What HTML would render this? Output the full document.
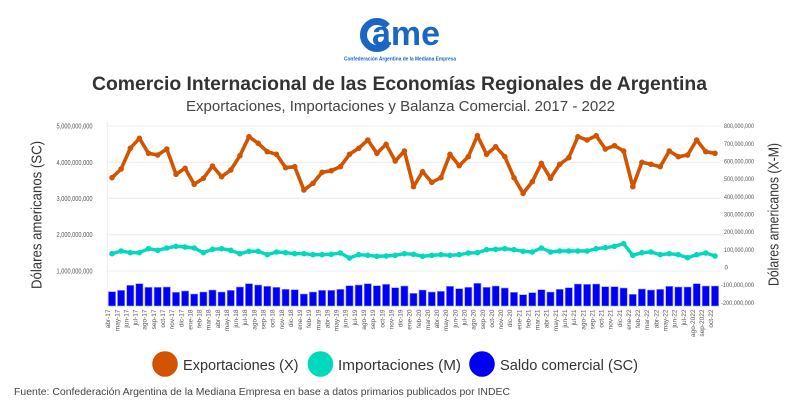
<!DOCTYPE html>
<html><head><meta charset="utf-8"><style>
html,body{margin:0;padding:0;background:#fff;}
svg{display:block;font-family:"Liberation Sans",sans-serif;}
</style></head><body>
<svg width="800" height="416" viewBox="0 0 800 416" xmlns="http://www.w3.org/2000/svg">
<defs>
<marker id="mo" markerUnits="userSpaceOnUse" markerWidth="8" markerHeight="8" refX="4" refY="4"><circle cx="4" cy="4" r="2.8" fill="#d35400"/></marker>
<marker id="mt" markerUnits="userSpaceOnUse" markerWidth="8" markerHeight="8" refX="4" refY="4"><circle cx="4" cy="4" r="2.8" fill="#00d9bd"/></marker>
</defs>
<!-- logo -->
<path d="M387.3,26.3 A13.5,13.5 0 1,0 387.3,43.7" fill="none" stroke="#1a66c4" stroke-width="7"/>
<text x="372" y="45" font-size="34" font-weight="bold" fill="#1a66c4" textLength="68" lengthAdjust="spacingAndGlyphs">ame</text>
<text x="344" y="60.5" font-size="5.5" font-weight="bold" fill="#1a66c4" textLength="112" lengthAdjust="spacingAndGlyphs">Confederación Argentina de la Mediana Empresa</text>
<!-- titles -->
<text x="92" y="90" font-size="19" font-weight="bold" fill="#333" textLength="615" lengthAdjust="spacingAndGlyphs">Comercio Internacional de las Economías Regionales de Argentina</text>
<text x="186" y="111" font-size="15" fill="#444" textLength="429" lengthAdjust="spacingAndGlyphs">Exportaciones, Importaciones y Balanza Comercial. 2017 - 2022</text>
<!-- grid -->
<g stroke="#ececec" stroke-width="1">
<line x1="107" y1="126" x2="721" y2="126"/>
<line x1="107" y1="162.3" x2="721" y2="162.3"/>
<line x1="107" y1="198.3" x2="721" y2="198.3"/>
<line x1="107" y1="234.7" x2="721" y2="234.7"/>
<line x1="107" y1="271" x2="721" y2="271"/>
<line x1="107.3" y1="122" x2="107.3" y2="307"/>
</g>
<!-- left ticks -->
<g font-size="7" fill="#555" text-anchor="end">
<text x="92.5" y="128.5" textLength="36" lengthAdjust="spacingAndGlyphs">5,000,000,000</text>
<text x="92.5" y="164.8" textLength="36" lengthAdjust="spacingAndGlyphs">4,000,000,000</text>
<text x="92.5" y="200.8" textLength="36" lengthAdjust="spacingAndGlyphs">3,000,000,000</text>
<text x="92.5" y="237.2" textLength="36" lengthAdjust="spacingAndGlyphs">2,000,000,000</text>
<text x="92.5" y="273.5" textLength="36" lengthAdjust="spacingAndGlyphs">1,000,000,000</text>
</g>
<!-- right ticks -->
<g font-size="6" fill="#555">
<text x="724" y="128.2" textLength="30" lengthAdjust="spacingAndGlyphs">800,000,000</text>
<text x="724" y="145.9" textLength="30" lengthAdjust="spacingAndGlyphs">700,000,000</text>
<text x="724" y="163.5" textLength="30" lengthAdjust="spacingAndGlyphs">600,000,000</text>
<text x="724" y="181.2" textLength="30" lengthAdjust="spacingAndGlyphs">500,000,000</text>
<text x="724" y="198.9" textLength="30" lengthAdjust="spacingAndGlyphs">400,000,000</text>
<text x="724" y="216.5" textLength="30" lengthAdjust="spacingAndGlyphs">300,000,000</text>
<text x="724" y="234.2" textLength="30" lengthAdjust="spacingAndGlyphs">200,000,000</text>
<text x="724" y="251.9" textLength="30" lengthAdjust="spacingAndGlyphs">100,000,000</text>
<text x="724.5" y="269.5">0</text>
<text x="721" y="287.2" textLength="33" lengthAdjust="spacingAndGlyphs">-100,000,000</text>
<text x="721" y="304.9" textLength="33" lengthAdjust="spacingAndGlyphs">-200,000,000</text>
</g>
<!-- axis titles -->
<text transform="translate(41.5,215) rotate(-90)" text-anchor="middle" font-size="15" fill="#333" textLength="148" lengthAdjust="spacingAndGlyphs">Dólares americanos (SC)</text>
<text transform="translate(778.5,214.5) rotate(-90)" text-anchor="middle" font-size="15" fill="#333" textLength="143" lengthAdjust="spacingAndGlyphs">Dólares americanos (X-M)</text>
<!-- bars -->
<g fill="#0000f5" stroke="#9a9aff" stroke-width="0.6">
<rect x="108.4" y="291.7" width="7.2" height="14.3"/>
<rect x="117.5" y="290.3" width="7.2" height="15.7"/>
<rect x="126.7" y="285.3" width="7.2" height="20.7"/>
<rect x="135.8" y="283.7" width="7.2" height="22.3"/>
<rect x="144.9" y="287.3" width="7.2" height="18.7"/>
<rect x="154.1" y="287.3" width="7.2" height="18.7"/>
<rect x="163.2" y="287.0" width="7.2" height="19.0"/>
<rect x="172.4" y="292.3" width="7.2" height="13.7"/>
<rect x="181.5" y="291.0" width="7.2" height="15.0"/>
<rect x="190.6" y="294.0" width="7.2" height="12.0"/>
<rect x="199.8" y="292.0" width="7.2" height="14.0"/>
<rect x="208.9" y="290.0" width="7.2" height="16.0"/>
<rect x="218.0" y="292.0" width="7.2" height="14.0"/>
<rect x="227.2" y="290.3" width="7.2" height="15.7"/>
<rect x="236.3" y="287.0" width="7.2" height="19.0"/>
<rect x="245.4" y="283.7" width="7.2" height="22.3"/>
<rect x="254.6" y="285.0" width="7.2" height="21.0"/>
<rect x="263.7" y="286.3" width="7.2" height="19.7"/>
<rect x="272.8" y="287.3" width="7.2" height="18.7"/>
<rect x="282.0" y="289.3" width="7.2" height="16.7"/>
<rect x="291.1" y="289.7" width="7.2" height="16.3"/>
<rect x="300.3" y="294.0" width="7.2" height="12.0"/>
<rect x="309.4" y="292.0" width="7.2" height="14.0"/>
<rect x="318.5" y="290.3" width="7.2" height="15.7"/>
<rect x="327.7" y="290.3" width="7.2" height="15.7"/>
<rect x="336.8" y="289.3" width="7.2" height="16.7"/>
<rect x="345.9" y="285.7" width="7.2" height="20.3"/>
<rect x="355.1" y="285.0" width="7.2" height="21.0"/>
<rect x="364.2" y="283.7" width="7.2" height="22.3"/>
<rect x="373.3" y="285.7" width="7.2" height="20.3"/>
<rect x="382.5" y="284.3" width="7.2" height="21.7"/>
<rect x="391.6" y="287.7" width="7.2" height="18.3"/>
<rect x="400.8" y="286.0" width="7.2" height="20.0"/>
<rect x="409.9" y="293.3" width="7.2" height="12.7"/>
<rect x="419.0" y="290.0" width="7.2" height="16.0"/>
<rect x="428.2" y="292.0" width="7.2" height="14.0"/>
<rect x="437.3" y="291.3" width="7.2" height="14.7"/>
<rect x="446.4" y="286.3" width="7.2" height="19.7"/>
<rect x="455.6" y="288.7" width="7.2" height="17.3"/>
<rect x="464.7" y="287.3" width="7.2" height="18.7"/>
<rect x="473.8" y="283.3" width="7.2" height="22.7"/>
<rect x="483.0" y="287.3" width="7.2" height="18.7"/>
<rect x="492.1" y="286.0" width="7.2" height="20.0"/>
<rect x="501.2" y="288.0" width="7.2" height="18.0"/>
<rect x="510.4" y="292.3" width="7.2" height="13.7"/>
<rect x="519.5" y="294.7" width="7.2" height="11.3"/>
<rect x="528.7" y="292.7" width="7.2" height="13.3"/>
<rect x="537.8" y="289.7" width="7.2" height="16.3"/>
<rect x="546.9" y="292.0" width="7.2" height="14.0"/>
<rect x="556.1" y="289.3" width="7.2" height="16.7"/>
<rect x="565.2" y="287.7" width="7.2" height="18.3"/>
<rect x="574.3" y="284.0" width="7.2" height="22.0"/>
<rect x="583.5" y="284.3" width="7.2" height="21.7"/>
<rect x="592.6" y="284.0" width="7.2" height="22.0"/>
<rect x="601.7" y="286.7" width="7.2" height="19.3"/>
<rect x="610.9" y="286.7" width="7.2" height="19.3"/>
<rect x="620.0" y="288.0" width="7.2" height="18.0"/>
<rect x="629.2" y="294.3" width="7.2" height="11.7"/>
<rect x="638.3" y="289.0" width="7.2" height="17.0"/>
<rect x="647.4" y="290.0" width="7.2" height="16.0"/>
<rect x="656.6" y="289.3" width="7.2" height="16.7"/>
<rect x="665.7" y="286.3" width="7.2" height="19.7"/>
<rect x="674.8" y="287.0" width="7.2" height="19.0"/>
<rect x="684.0" y="287.0" width="7.2" height="19.0"/>
<rect x="693.1" y="283.7" width="7.2" height="22.3"/>
<rect x="702.2" y="286.0" width="7.2" height="20.0"/>
<rect x="711.4" y="286.0" width="7.2" height="20.0"/>
</g>
<!-- imports -->
<polyline fill="none" stroke="#00d9bd" stroke-width="3.4" stroke-linejoin="round" stroke-linecap="round" marker-start="url(#mt)" marker-mid="url(#mt)" marker-end="url(#mt)" points="112.0,253.7 121.1,251.0 130.3,252.7 139.4,252.7 148.5,248.7 157.7,250.3 166.8,248.0 176.0,246.3 185.1,247.0 194.2,248.0 203.4,252.7 212.5,249.3 221.6,248.7 230.8,250.3 239.9,253.7 249.0,251.3 258.2,251.3 267.3,254.7 276.4,252.0 285.6,252.7 294.7,253.7 303.9,253.7 313.0,254.7 322.1,254.7 331.3,254.3 340.4,253.0 349.5,258.0 358.7,254.7 367.8,255.3 376.9,256.3 386.1,256.0 395.2,255.3 404.4,253.7 413.5,254.3 422.6,256.3 431.8,255.3 440.9,254.7 450.0,255.3 459.2,254.7 468.3,253.0 477.4,252.7 486.6,249.7 495.7,249.3 504.8,248.7 514.0,249.7 523.1,251.3 532.3,252.0 541.4,248.0 550.5,252.0 559.7,251.0 568.8,251.0 577.9,251.0 587.1,251.0 596.2,248.7 605.3,247.7 614.5,246.3 623.6,243.7 632.8,255.3 641.9,252.7 651.0,252.0 660.2,254.7 669.3,253.7 678.4,254.7 687.6,257.7 696.7,254.7 705.8,253.0 715.0,256.0"/>
<!-- exports -->
<polyline fill="none" stroke="#d35400" stroke-width="3.6" stroke-linejoin="round" stroke-linecap="round" marker-start="url(#mo)" marker-mid="url(#mo)" marker-end="url(#mo)" points="112.0,177.7 121.1,169.0 130.3,148.3 139.4,138.3 148.5,153.3 157.7,155.0 166.8,149.0 176.0,174.3 185.1,168.3 194.2,184.3 203.4,178.3 212.5,166.0 221.6,176.7 230.8,170.0 239.9,155.7 249.0,136.7 258.2,143.3 267.3,151.7 276.4,154.3 285.6,167.7 294.7,166.7 303.9,190.0 313.0,183.3 322.1,172.3 331.3,170.7 340.4,166.7 349.5,154.3 358.7,148.3 367.8,140.0 376.9,153.3 386.1,144.3 395.2,161.0 404.4,151.0 413.5,186.7 422.6,171.7 431.8,182.3 440.9,177.7 450.0,154.3 459.2,165.7 468.3,156.7 477.4,135.7 486.6,154.3 495.7,146.7 504.8,156.7 514.0,177.7 523.1,193.3 532.3,181.7 541.4,163.3 550.5,178.3 559.7,164.3 568.8,157.7 577.9,136.7 587.1,140.0 596.2,135.7 605.3,149.0 614.5,145.7 623.6,151.0 632.8,186.7 641.9,162.3 651.0,164.3 660.2,166.7 669.3,151.0 678.4,156.7 687.6,155.0 696.7,140.0 705.8,151.7 715.0,153.3"/>
<!-- x labels -->
<g font-size="6.5" fill="#555" text-anchor="end">
<text transform="translate(110.2,309.5) rotate(-90)">abr-17</text>
<text transform="translate(119.3,309.5) rotate(-90)">may-17</text>
<text transform="translate(128.5,309.5) rotate(-90)">jun-17</text>
<text transform="translate(137.6,309.5) rotate(-90)">jul-17</text>
<text transform="translate(146.7,309.5) rotate(-90)">ago-17</text>
<text transform="translate(155.9,309.5) rotate(-90)">sep-17</text>
<text transform="translate(165.0,309.5) rotate(-90)">oct-17</text>
<text transform="translate(174.2,309.5) rotate(-90)">nov-17</text>
<text transform="translate(183.3,309.5) rotate(-90)">dic-17</text>
<text transform="translate(192.4,309.5) rotate(-90)">ene-18</text>
<text transform="translate(201.6,309.5) rotate(-90)">feb-18</text>
<text transform="translate(210.7,309.5) rotate(-90)">mar-18</text>
<text transform="translate(219.8,309.5) rotate(-90)">abr-18</text>
<text transform="translate(229.0,309.5) rotate(-90)">may-18</text>
<text transform="translate(238.1,309.5) rotate(-90)">jun-18</text>
<text transform="translate(247.2,309.5) rotate(-90)">jul-18</text>
<text transform="translate(256.4,309.5) rotate(-90)">ago-18</text>
<text transform="translate(265.5,309.5) rotate(-90)">sep-18</text>
<text transform="translate(274.6,309.5) rotate(-90)">oct-18</text>
<text transform="translate(283.8,309.5) rotate(-90)">nov-18</text>
<text transform="translate(292.9,309.5) rotate(-90)">dic-18</text>
<text transform="translate(302.1,309.5) rotate(-90)">ene-19</text>
<text transform="translate(311.2,309.5) rotate(-90)">feb-19</text>
<text transform="translate(320.3,309.5) rotate(-90)">mar-19</text>
<text transform="translate(329.5,309.5) rotate(-90)">abr-19</text>
<text transform="translate(338.6,309.5) rotate(-90)">may-19</text>
<text transform="translate(347.7,309.5) rotate(-90)">jun-19</text>
<text transform="translate(356.9,309.5) rotate(-90)">jul-19</text>
<text transform="translate(366.0,309.5) rotate(-90)">ago-19</text>
<text transform="translate(375.1,309.5) rotate(-90)">sep-19</text>
<text transform="translate(384.3,309.5) rotate(-90)">oct-19</text>
<text transform="translate(393.4,309.5) rotate(-90)">nov-19</text>
<text transform="translate(402.6,309.5) rotate(-90)">dic-19</text>
<text transform="translate(411.7,309.5) rotate(-90)">ene-20</text>
<text transform="translate(420.8,309.5) rotate(-90)">feb-20</text>
<text transform="translate(430.0,309.5) rotate(-90)">mar-20</text>
<text transform="translate(439.1,309.5) rotate(-90)">abr-20</text>
<text transform="translate(448.2,309.5) rotate(-90)">may-20</text>
<text transform="translate(457.4,309.5) rotate(-90)">jun-20</text>
<text transform="translate(466.5,309.5) rotate(-90)">jul-20</text>
<text transform="translate(475.6,309.5) rotate(-90)">ago-20</text>
<text transform="translate(484.8,309.5) rotate(-90)">sep-20</text>
<text transform="translate(493.9,309.5) rotate(-90)">oct-20</text>
<text transform="translate(503.0,309.5) rotate(-90)">nov-20</text>
<text transform="translate(512.2,309.5) rotate(-90)">dic-20</text>
<text transform="translate(521.3,309.5) rotate(-90)">ene-21</text>
<text transform="translate(530.5,309.5) rotate(-90)">feb-21</text>
<text transform="translate(539.6,309.5) rotate(-90)">mar-21</text>
<text transform="translate(548.7,309.5) rotate(-90)">abr-21</text>
<text transform="translate(557.9,309.5) rotate(-90)">may-21</text>
<text transform="translate(567.0,309.5) rotate(-90)">jun-21</text>
<text transform="translate(576.1,309.5) rotate(-90)">jul-21</text>
<text transform="translate(585.3,309.5) rotate(-90)">ago-21</text>
<text transform="translate(594.4,309.5) rotate(-90)">sep-21</text>
<text transform="translate(603.5,309.5) rotate(-90)">oct-21</text>
<text transform="translate(612.7,309.5) rotate(-90)">nov-21</text>
<text transform="translate(621.8,309.5) rotate(-90)">dic-21</text>
<text transform="translate(631.0,309.5) rotate(-90)">ene-22</text>
<text transform="translate(640.1,309.5) rotate(-90)">feb-22</text>
<text transform="translate(649.2,309.5) rotate(-90)">mar-22</text>
<text transform="translate(658.4,309.5) rotate(-90)">abr-22</text>
<text transform="translate(667.5,309.5) rotate(-90)">may-22</text>
<text transform="translate(676.6,309.5) rotate(-90)">jun-22</text>
<text transform="translate(685.8,309.5) rotate(-90)">jul-22</text>
<text transform="translate(694.9,309.5) rotate(-90)">ago-2022</text>
<text transform="translate(704.0,309.5) rotate(-90)">sep-2022</text>
<text transform="translate(713.2,309.5) rotate(-90)">oct-22</text>
</g>
<!-- legend -->
<circle cx="165" cy="364" r="12.8" fill="#d35400"/>
<text x="183" y="370" font-size="15" fill="#333" textLength="115.5" lengthAdjust="spacingAndGlyphs">Exportaciones (X)</text>
<circle cx="320.4" cy="364" r="12.8" fill="#00d9bd"/>
<text x="338" y="370" font-size="15" fill="#333" textLength="123" lengthAdjust="spacingAndGlyphs">Importaciones (M)</text>
<circle cx="482" cy="364" r="12.8" fill="#0000f5"/>
<text x="500" y="370" font-size="15" fill="#333" textLength="138" lengthAdjust="spacingAndGlyphs">Saldo comercial (SC)</text>
<!-- footer -->
<text x="14" y="395" font-size="10" fill="#444" textLength="496" lengthAdjust="spacingAndGlyphs">Fuente: Confederación Argentina de la Mediana Empresa en base a datos primarios publicados por INDEC</text>
</svg>
</body></html>
